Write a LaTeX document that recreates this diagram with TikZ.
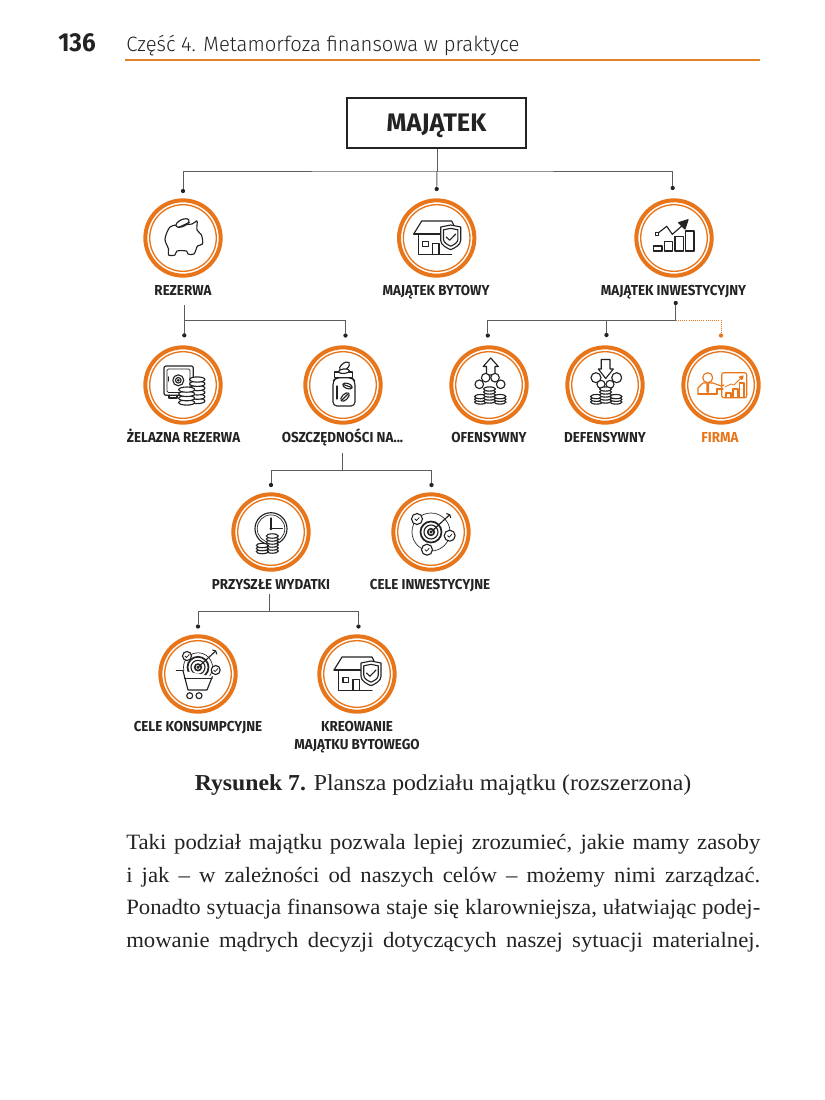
\documentclass[tikz,border=0pt]{standalone}
\usepackage{fontspec}
\usetikzlibrary{calc}
\newfontfamily\lblfont[FakeStretch=0.93]{Fira Sans Bold}
\newfontfamily\numfont{Fira Sans Bold}
\newfontfamily\pgnfont[FakeStretch=0.93]{Fira Sans Bold}
\newfontfamily\hdfont[FakeStretch=0.975]{Fira Sans Light}
\setmainfont[FakeStretch=1.04]{Liberation Serif}
\definecolor{ringor}{HTML}{E8751A}
\definecolor{ruleor}{HTML}{E0822C}
\definecolor{linegr}{HTML}{5C5C5C}
\definecolor{inkk}{HTML}{232323}
\tikzset{
  ringbase/.style={circle,draw=ringor,line width=3pt,minimum size=56.5pt,inner sep=0pt},
  ringinner/.style={draw=ringor,line width=1pt},
  lbl/.style={anchor=base,font=\lblfont\fontsize{10.8}{12}\selectfont,text=inkk,inner sep=0pt},
  conn/.style={draw=linegr,line width=.75pt},
  connor/.style={draw=ringor,line width=.6pt,densely dotted},
  dotn/.style={circle,fill=inkk,minimum size=3.2pt,inner sep=0pt},
  dotor/.style={circle,fill=ringor,minimum size=3.2pt,inner sep=0pt},
  icn/.style={draw=inkk,line width=.85pt,line join=round,line cap=round},
  bodyl/.style={anchor=base west,inner sep=0pt,font=\fontsize{16.4}{18}\selectfont,text=inkk},
}
\newcommand{\ringat}[3]{%
  \node[ringbase] (#1) at (#2,#3) {};
  \draw[ringinner] (#1.center) circle [radius=33.3];
}
\newcommand{\coins}[6]{% cx, bottom, rx, ry, last index, dy
  \foreach \k in {0,...,#5}{
    \pgfmathsetmacro{\yy}{#2-\k*#6}
    \path[icn,fill=white] (#1,\yy) ellipse [x radius=#3,y radius=#4];
  }
}
\newcommand{\housebase}{%
  \path[icn] (-23,-4) -- (-15,-17) -- (15,-17) -- (17,-13);
  \path[icn] (-23,-4) -- (5,-4);
  \path[icn] (-18.3,-4) -- (-18.3,16.3) -- (15,16.3);
  \path[icn] (-14,3.3) rectangle (-8.3,8.3);
  \path[icn] (-4,16.3) -- (-4,5.7) -- (2.3,5.7) -- (2.3,16.3);
  \path[icn,fill=white] (4,-11) -- (14,-13) -- (24,-11) -- (24,2.3) .. controls (24,7) and (18,10) .. (14,11.7) .. controls (10,10) and (4,7) .. (4,2.3) -- cycle;
  \begin{scope}[shift={(14,-1)},scale=.72,shift={(-14,1)}]
    \path[icn] (4,-11) -- (14,-13) -- (24,-11) -- (24,2.3) .. controls (24,7) and (18,10) .. (14,11.7) .. controls (10,10) and (4,7) .. (4,2.3) -- cycle;
  \end{scope}
  \path[icn] (9.5,-1) -- (13,2.2) -- (19,-4);
}
\newcommand{\chk}[2]{\path[icn,line width=.55pt] (#1-2,#2) -- (#1-.5,#2+1.5) -- (#1+2.2,#2-1.5);}
\newcommand{\target}[4]{% x, y, tipx, tipy
  \path[icn,line width=1.3pt] (#1,#2) circle [radius=10.5];
  \path[icn] (#1,#2) circle [radius=7];
  \path[icn,line width=1.2pt] (#1,#2) circle [radius=3.3];
  \path[icn,fill=inkk] (#1,#2) circle [radius=1];
  \path[icn] (#1,#2) -- (#3,#4);
  \path[icn] (#3-3,#4-1) -- (#3,#4) -- (#3+1,#4+3);
}
\begin{document}
\begin{tikzpicture}[x=.75pt,y=-.75pt]
\useasboundingbox (0,0) rectangle (825,1100);
\fill[white] (0,0) rectangle (825,1100);
% header
\node[anchor=base west,inner sep=0pt,font=\pgnfont\fontsize{19.5}{22}\selectfont,text=inkk] (pnum) at (58,51) {136};
\node[anchor=base west,inner sep=0pt,font=\hdfont\fontsize{15.6}{18}\selectfont,text=inkk] (hd) at (126,51.5) {Część 4. Metamorfoza finansowa w praktyce};
\coordinate (ruleL) at (125,59.7);
\coordinate (ruleR) at (760,59.7);
\draw[draw=ruleor,line width=1.6pt] (ruleL) -- (ruleR);
% title
\node[draw=inkk,line width=1.2pt,minimum width=134.5pt,minimum height=37.5pt,inner sep=0pt,text height=13pt,text depth=0pt,font=\numfont\fontsize{19}{22}\selectfont,text=inkk] (maj) at (436.5,123) {MAJĄTEK};
% rings
\ringat{rez}{183}{238}
\ringat{byt}{436.7}{238}
\ringat{inw}{674}{238}
\ringat{zel}{183}{385}
\ringat{osz}{343}{385}
\ringat{ofe}{489}{385}
\ringat{def}{605}{385}
\ringat{fir}{721}{385}
\ringat{prz}{271}{532}
\ringat{cin}{431}{532}
\ringat{cko}{198}{674}
\ringat{kre}{357}{674}
% labels
\node[lbl] (lrez) at (183,295) {REZERWA};
\node[lbl] (lbyt) at (436,295) {MAJĄTEK BYTOWY};
\node[lbl] (linw) at (673.5,295) {MAJĄTEK INWESTYCYJNY};
\node[lbl] (lzel) at (183.5,442) {ŻELAZNA REZERWA};
\node[lbl] (losz) at (342.5,442) {OSZCZĘDNOŚCI NA...};
\node[lbl] (lofe) at (489,442) {OFENSYWNY};
\node[lbl] (ldef) at (605,442) {DEFENSYWNY};
\node[lbl,text=ringor] (lfir) at (720,442) {FIRMA};
\node[lbl] (lprz) at (271,589) {PRZYSZŁE WYDATKI};
\node[lbl] (lcin) at (430,589) {CELE INWESTYCYJNE};
\node[lbl] (lcko) at (198,731) {CELE KONSUMPCYJNE};
\node[lbl] (lkr1) at (357,731) {KREOWANIE};
\node[lbl] (lkr2) at (357,749) {MAJĄTKU BYTOWEGO};
% dots
\node[dotn] (d1) at (183,191) {};
\node[dotn] (d2) at (436.7,189) {};
\node[dotn] (d3) at (672.7,188) {};
\node[dotn] (d4) at (184.3,335.3) {};
\node[dotn] (d5) at (345.5,335.5) {};
\node[dotn] (d6) at (487.8,335.5) {};
\node[dotn] (d7) at (606.5,335) {};
\node[dotor] (d8) at (721,335.5) {};
\node[dotn] (d9) at (675.7,303) {};
\node[dotn] (d10) at (271,485) {};
\node[dotn] (d11) at (431.5,485) {};
\node[dotn] (d12) at (198,626.5) {};
\node[dotn] (d13) at (358.5,626.5) {};
% connector junctions
\coordinate (j1) at (437,171);
\coordinate (j2t) at (184.3,305);
\coordinate (j2) at (184.3,320);
\coordinate (j3) at (675.7,320);
\coordinate (j4t) at (342.3,453);
\coordinate (j4) at (342.3,470.5);
\coordinate (j5t) at (269.7,594);
\coordinate (j5) at (269.7,611.5);
\coordinate (j7) at (606.5,320);
% connectors
\draw[conn] (maj.south -| j1) -- (j1);
\draw[conn] (d1) |- (j1) -| (d3);
\draw[conn] (j1) -- (d2);
\draw[conn] (j2t) -- (d4);
\draw[conn] (j2) -| (d5);
\draw[conn] (d9) -- (j3) -| (d6);
\draw[conn] (j7) -- (d7);
\draw[connor] (j3) -| (d8);
\draw[conn] (j4t) -- (j4);
\draw[conn] (d10) |- (j4) -| (d11);
\draw[conn] (j5t) -- (j5);
\draw[conn] (d12) |- (j5) -| (d13);
% piggy
\begin{scope}[shift={(rez.center)}]
  \path[icn] plot[smooth cycle,tension=.55] coordinates {(-18,1) (-13,-11) (-5,-13) (9,-14) (14,-17) (14,-8) (18.5,-3) (19.5,6) (14.5,8) (11,16) (5,16) (3.5,13) (-6,13) (-8,17) (-14.5,17) (-14.5,11)};
  \path[icn,fill=white,shift={(-.5,-15)},rotate=25] (0,0) ellipse [x radius=7,y radius=3.4];
  \path[icn,shift={(.5,-14)},rotate=25] (-6,1) -- (6,1);
\end{scope}
% houses
\begin{scope}[shift={(byt.center)}]\housebase\end{scope}
\begin{scope}[shift={(kre.center)}]\housebase\end{scope}
% chart
\begin{scope}[shift={(inw.center)}]
  \path[icn] (-20.7,8) rectangle (-12,13);
  \path[icn] (-9.7,3.3) rectangle (-1.3,13);
  \path[icn] (1,-1.7) rectangle (9.3,13);
  \path[icn] (11.7,-7) rectangle (20,13);
  \path[icn] (-16.7,-4.3) -- (-7.3,-11.7) -- (-1.7,-3.7) -- (9,-13);
  \path[icn,fill=inkk] (14,-18.3) -- (4.5,-15.3) -- (11,-9) -- cycle;
  \path[icn,fill=white,line width=.4pt] (-18.5,-6) rectangle (-15.5,-3);
\end{scope}
% safe
\begin{scope}[shift={(zel.center)}]
  \path[icn] (-14,10.3) -- (-14,13) -- (-6,13) -- (-6,10.3);
  \path[icn,rounded corners=1.5pt] (-19,-19) rectangle (10.3,10.3);
  \path[icn,line width=.5pt,rounded corners=1pt] (-16,-16) rectangle (7,7.5);
  \path[icn] (-4.7,-4.7) circle [radius=5.5];
  \path[icn] (-4.7,-4.7) circle [radius=2.8];
  \path[icn] (-4.7,-4.7) circle [radius=.8];
  \path[icn] (-14.5,-8) -- (-14.5,-4);
  \coins{14.3}{16}{7.7}{2.6}{5}{4.3}
  \coins{3.7}{17.5}{8}{2.6}{3}{4.3}
\end{scope}
% jar
\begin{scope}[shift={(osz.center)}]
  \path[icn,fill=white,rounded corners=3pt] (-10,-4) -- (-7,-7.3) -- (9,-7.3) -- (12,-4) -- (12,21) -- (-10,21) -- cycle;
  \path[icn,fill=white] (-8.5,-13) rectangle (9.5,-7.3);
  \path[icn,fill=white,shift={(1.5,-18.5)},rotate=40] (0,0) ellipse [x radius=6,y radius=3.2];
  \path[icn,fill=white,shift={(1,-13.8)},rotate=5] (0,0) ellipse [x radius=5.5,y radius=2.3];
  \path[icn,fill=white,shift={(4.5,1)},rotate=-20] (0,0) ellipse [x radius=5,y radius=2.6];
  \path[icn,shift={(4.5,1)},rotate=-20] (-4,0) -- (4,0);
  \path[icn,fill=white,shift={(2,12)},rotate=45] (0,0) ellipse [x radius=5.3,y radius=2.8];
  \path[icn,shift={(2,12)},rotate=45] (-4,0) -- (4,0);
  \path[icn] (-6,1) -- (-6,14);
\end{scope}
% ofensywny
\begin{scope}[shift={(ofe.center)}]
  \path[icn] (1.7,-27) -- (9.3,-18.5) -- (6,-18.5) -- (6,-10) -- (-2.5,-10) -- (-2.5,-18.5) -- (-5.8,-18.5) -- cycle;
  \path[icn,fill=white] (-3.3,-7.3) circle [radius=4.3];
  \path[icn,fill=white] (6,-7.3) circle [radius=4.3];
  \path[icn,fill=white] (-9.7,-.7) circle [radius=4.3];
  \path[icn,fill=white] (11.7,-.7) circle [radius=4.3];
  \coins{-8.5}{17}{6}{2.1}{2}{2.7}
  \coins{11}{17}{6}{2.1}{2}{2.7}
  \coins{0.5}{16}{6}{2.1}{4}{3}
\end{scope}
% defensywny
\begin{scope}[shift={(def.center)}]
  \path[icn,fill=white] (-9,-7.3) circle [radius=5];
  \path[icn,fill=white] (11.7,-7.3) circle [radius=5];
  \path[icn,fill=white] (-4,-.7) circle [radius=4];
  \path[icn,fill=white] (5,-.7) circle [radius=4];
  \path[icn,fill=white] (-3.7,-25.5) -- (5,-25.5) -- (5,-16) -- (8.3,-16) -- (.7,-6.5) -- (-6.7,-16) -- (-3.7,-16) -- cycle;
  \coins{-8.5}{17}{6}{2.1}{2}{2.7}
  \coins{11}{17}{6}{2.1}{2}{2.7}
  \coins{0.5}{16}{6}{2.1}{4}{3}
\end{scope}
% firma
\begin{scope}[shift={(fir.center)},icn/.append style={draw=ringor}]
  \path[icn] (-13.3,-7.3) circle [radius=5];
  \path[icn] (-23,9) -- (-23,3) -- (-18,-2) -- (-8,-2) -- (0,1) -- (3,0);
  \path[icn] (-23,9) -- (-4,9) -- (-4,4) -- (2,4);
  \path[icn,fill=ringor] (-14,-1) -- (-12.5,-1) -- (-12.5,6) -- (-13.3,8) -- (-14,6) -- cycle;
  \path[icn,rounded corners=1.5pt] (.7,-12.3) rectangle (25.7,12.7);
  \path[icn] (5,8) rectangle (10,12.7);
  \path[icn] (12,4) rectangle (17,12.7);
  \path[icn] (18.5,-2) rectangle (23,12.7);
  \path[icn,line width=.55pt] (4,2) -- (10,-1) -- (13,0) -- (21,-8);
  \path[icn,fill=ringor] (22,-9) -- (18.5,-8) -- (21,-5.5) -- cycle;
\end{scope}
% clock
\begin{scope}[shift={(prz.center)}]
  \path[icn] (0,-3.3) circle [radius=16];
  \path[icn,line width=.5pt] (0,-3.3) circle [radius=13.8];
  \path[icn] (0,-14) -- (0,-3.3) -- (11.3,-3.3);
  \path[icn,fill=inkk] (0,-3.3) circle [radius=.9];
  \coins{1.3}{19}{6}{2.2}{5}{3}
  \coins{-8.7}{19.5}{6}{2.2}{2}{3}
\end{scope}
% investment target
\begin{scope}[shift={(cin.center)}]
  \path[icn,line width=.5pt] (0,0) circle [radius=19];
  \target{0}{0}{18.7}{-17.3}
  \path[icn,fill=white] (-14,-13) circle [radius=5.5];
  \path[icn,fill=white] (18.7,3.7) circle [radius=5.5];
  \path[icn,fill=white] (-4,17.7) circle [radius=5.5];
  \chk{-14}{-13}
  \chk{18.7}{3.7}
  \chk{-4}{17.7}
\end{scope}
% cart
\begin{scope}[shift={(cko.center)}]
  \path[icn,line width=.5pt] (0,-6.7) circle [radius=14.5];
  \target{0}{-6.7}{17.7}{-23}
  \path[icn,fill=white] (-11,-18) circle [radius=4.5];
  \path[icn,fill=white] (17.7,-4) circle [radius=4.5];
  \chk{-11}{-18}
  \chk{17.7}{-4}
  \path[icn,fill=white] (-15,-3.3) -- (-10,16) -- (9,16) -- (14.3,2.7);
  \path[icn] (-21.7,-3.3) -- (-15,-3.3);
  \path[icn] (-13.3,4.3) -- (14,4.3);
  \path[icn] (-8.3,21.7) circle [radius=3];
  \path[icn] (1,21.7) circle [radius=3];
\end{scope}
% caption
\node[anchor=base,inner sep=0pt,font=\fontsize{17.1}{18}\selectfont,text=inkk] (cap) at (443,790) {\textbf{Rysunek \oldstylenums{7}.} Plansza podziału majątku (rozszerzona)};
% body
\node[bodyl] (b1) at (126,849) {\makebox[475.5pt][s]{Taki podział majątku pozwala lepiej zrozumieć, jakie mamy zasoby}};
\node[bodyl] (b2) at (126,882) {\makebox[475.5pt][s]{i jak – w zależności od naszych celów – możemy nimi zarządzać.}};
\node[bodyl] (b3) at (126,914) {\makebox[475.5pt][s]{Ponadto sytuacja finansowa staje się klarowniejsza, ułatwiając podej-}};
\node[bodyl] (b4) at (126,947) {\makebox[475.5pt][s]{mowanie mądrych decyzji dotyczących naszej sytuacji materialnej.}};
\end{tikzpicture}
\end{document}
